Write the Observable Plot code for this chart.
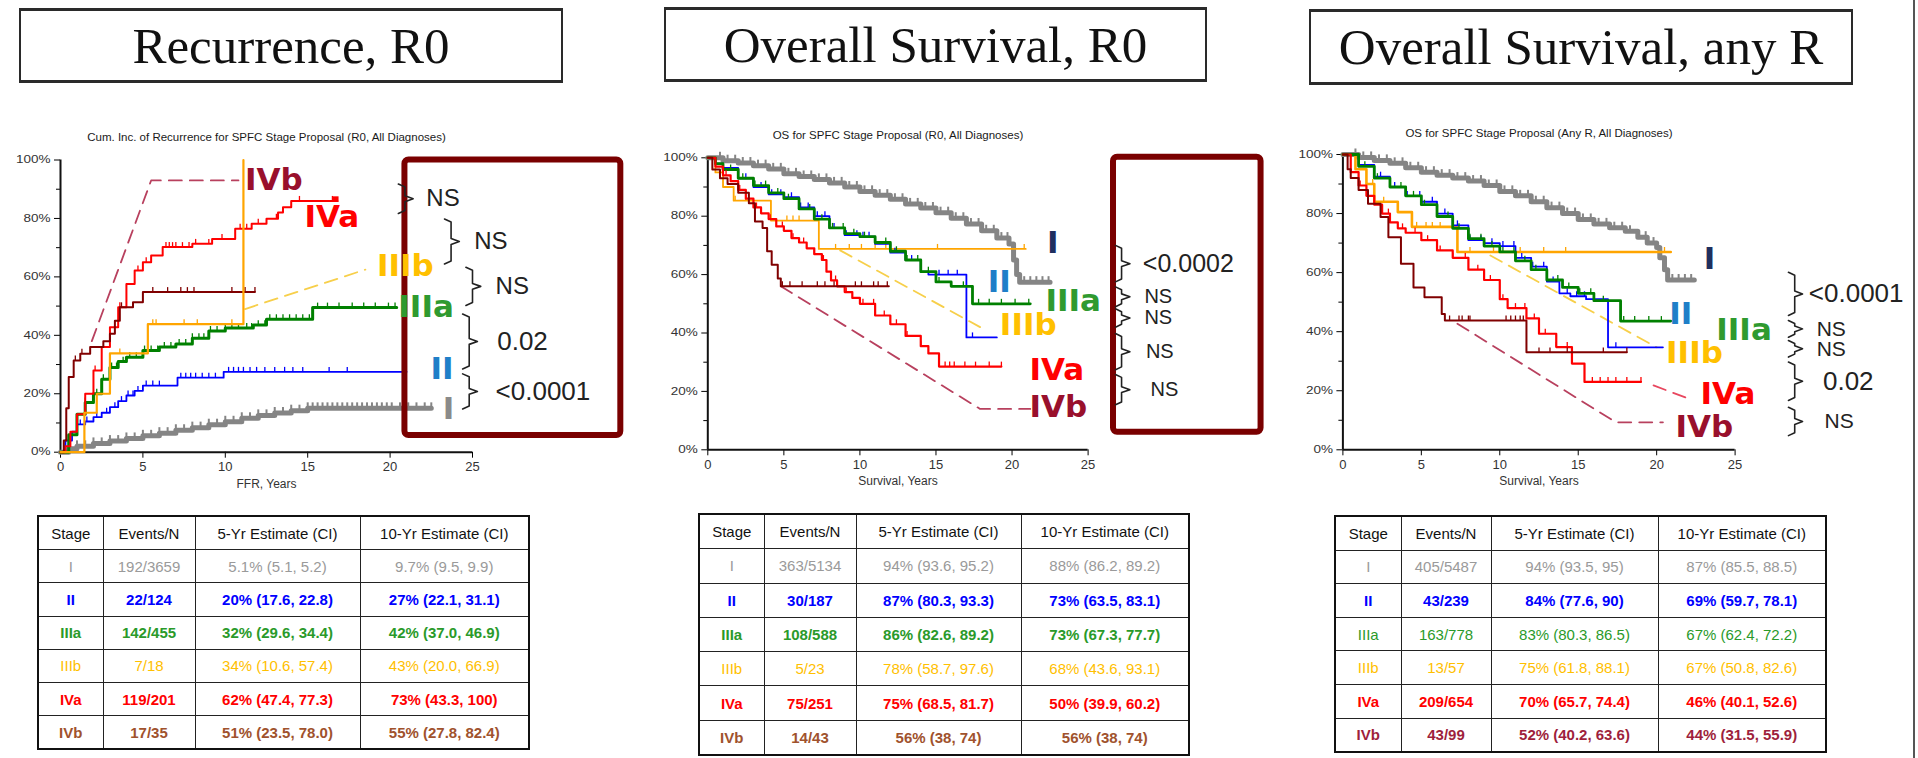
<!DOCTYPE html>
<html><head><meta charset="utf-8">
<script src="https://cdn.jsdelivr.net/npm/d3@7"></script>
<script src="https://cdn.jsdelivr.net/npm/@observablehq/plot@0.6"></script>
<style>
html,body{margin:0;padding:0;background:#fff;}
body{width:1918px;height:758px;overflow:hidden;position:relative;font-family:'Liberation Sans',Arial,sans-serif;}
.tbox{position:absolute;box-sizing:border-box;border:2px solid #2a2a2a;border-top-width:3px;border-bottom-width:3px;display:flex;align-items:center;justify-content:center;font-family:'Liberation Serif','Times New Roman',serif;font-size:51px;color:#111;white-space:nowrap;}
.panel{position:absolute;}
.panel svg{overflow:visible;}
table.est{position:absolute;border-collapse:collapse;table-layout:fixed;font-family:'Liberation Sans',Arial,sans-serif;font-size:15px;border:2px solid #111;}
table.est td{border:1.6px solid #222;text-align:center;padding:0;white-space:nowrap;overflow:hidden;}
#edge{position:absolute;left:1913px;top:0;width:2px;height:758px;background:#555;}
</style></head>
<body>
<div id="edge"></div>
<script>
// ---------------- shared categories / ticks ----------------
const stages = ["I","II","IIIa","IIIb","IVa","IVb"];
const yearTicks = [0,5,10,15,20,25];
const pctTicks = [0,20,40,60,80,100];
const pctMinor = [10,30,50,70,90];
const headers = ["Stage","Events/N","5-Yr Estimate (CI)","10-Yr Estimate (CI)"];

// ---------------- Panel 1: Recurrence, R0 (cumulative incidence, %) ----------------
const rec_I    = [[0,0],[0.5,1.2],[1,2],[2,3],[3,3.8],[4,4.7],[5,5.6],[6,6.5],[7,7.5],[8,8.4],[9,9.4],[10,10.4],[11,11.6],[12,12.6],[13,13.4],[14,14.2],[15,15],[22.5,15]];
const rec_II   = [[0,0],[0.3,4],[0.7,7],[1,9.5],[1.5,10.5],[2,12],[2.5,13.5],[3,15.4],[3.5,17.5],[4,19.4],[4.5,21],[5,22.8],[7.1,25.5],[9.9,27.5],[21,27.5]];
const rec_IIIa = [[0,0],[0.5,6],[1,13],[1.5,17],[2,20],[2.5,25],[3,29],[3.5,31],[4,32.5],[5,34.8],[6,36],[7,37],[8,39],[9,41.5],[10,42.5],[11.7,43.5],[12.5,45.5],[15.3,49.5],[20.4,49.5]];
const rec_IIIb = [[0,0],[1.45,13.5],[2.2,20],[3,33.8],[5.3,43.8],[11.1,100]];
const rec_IVa  = [[0,0],[0.3,2],[0.6,7],[1,13],[1.5,20],[2,28],[2.5,36],[3,42.8],[3.5,49.6],[4,57.6],[4.5,62.2],[5,65],[5.5,67.3],[6.2,70.2],[8,71.3],[9.2,73],[10.6,76.5],[11.6,78.2],[12.5,79.9],[13.2,82],[13.5,83.8],[14,86],[16.8,86]];
const rec_IVb  = [[0,0],[0.2,4],[0.35,15],[0.5,25.7],[0.8,31.4],[1.2,33.7],[1.8,36],[2.6,38],[3,40.5],[3.3,45],[3.6,49.6],[4.4,51.3],[5,54.8],[11.8,54.8]];
const rec_I_c    = [1,1.5,2,2.5,3,3.5,4,4.5,5,5.5,6,6.5,7,7.5,8,8.5,9,9.5,10,10.5,11,11.5,12,12.5,13,13.5,14,14.5,15,15.3,15.6,15.9,16.2,16.5,16.8,17.1,17.4,17.7,18,18.3,18.6,18.9,19.2,19.5,19.8,20.1,20.6,21.1,21.6,22.1,22.5];
const rec_II_c   = [1.2,1.6,2.2,2.8,3.3,3.7,4.1,4.4,4.7,5.2,5.6,6.0,7.3,7.6,7.9,8.2,8.6,9.0,9.4,10.2,10.5,10.8,11.1,11.5,11.9,12.4,13.0,13.6,14.1,14.7,16.3,17.4];
const rec_IIIa_c = [1.5,2.2,2.6,3.1,3.4,3.8,4.2,4.6,5.1,5.5,5.9,6.3,6.7,7.2,7.6,8.0,8.4,8.7,9.1,9.5,10.0,10.4,10.8,11.3,11.6,12.0,12.4,12.7,13.1,13.5,13.9,14.3,14.7,15.1,15.6,16.2,16.9,17.7,18.4,19.1,19.9,20.3];
const rec_IIIb_c = [3.6,5.6,5.8,7.5,8.3,10.4];
const rec_IVa_c  = [2.1,3.6,4.7,5.2,6.4,6.6,6.8,7.0,7.4,7.8,8.2,9.0,9.8,10.9,11.3,12.0,13.1,14.5,16.5];
const rec_IVb_c  = [0.9,1.3,3.7,5.6,6.5,7.3,7.7,8.1,10.4,11.2,11.8];
const rec_endMark = [[16.7,86.6]];
const rec_dashIIIb = [[11.2,49],[18.5,62.5]];
const rec_dashIVb  = [[1.9,38],[5.5,93],[10.8,93]];
const rec_labelX = [23.2,22.45,20.5,19.2,14.8,11.2];
const rec_labelY = [14.6,28.3,49.6,63.6,80.4,93.0];
const rec_brX  = [20.9,23.7,25.0,24.8,24.8];
const rec_brY1 = [91.8,79.8,63.3,47.3,26.8];
const rec_brY2 = [81.7,64.4,50.2,28.5,14.8];
const rec_brText  = ["NS","NS","NS","0.02","<0.0001"];
const rec_brTextX = [22.2,25.1,26.4,26.5,26.4];
const rec_box = [20.9,34.0,5.7,100];
const rec_events = ["192/3659","22/124","142/455","7/18","119/201","17/35"];
const rec_5yr  = ["5.1% (5.1, 5.2)","20% (17.6, 22.8)","32% (29.6, 34.4)","34% (10.6, 57.4)","62% (47.4, 77.3)","51% (23.5, 78.0)"];
const rec_10yr = ["9.7% (9.5, 9.9)","27% (22.1, 31.1)","42% (37.0, 46.9)","43% (20.0, 66.9)","73% (43.3, 100)","55% (27.8, 82.4)"];

// ---------------- Panel 2: Overall Survival, R0 (%) ----------------
const os0_I    = [[0,100],[1,99],[2,98.2],[3,97.3],[4,96.2],[5,94.5],[6,93.6],[7,92.6],[8,91.4],[9,90],[10,88.5],[11,87.2],[12,85.8],[13,84.2],[14,82.8],[15,81.2],[16,79.3],[17,77.3],[18,75],[19,72.5],[19.8,70.5],[20.1,65],[20.3,60],[20.5,57.4],[22.5,57.4]];
const os0_II   = [[0,100],[0.5,98],[1,96.5],[2,93],[3,90],[4,87.5],[5,86.5],[6,83],[7,80],[8,76],[9,73.5],[10,73],[11,70.5],[12,67.5],[13,65],[14,61],[14.5,60],[17,38.5],[19,38.5]];
const os0_IIIa = [[0,100],[0.5,98],[1,96],[2,93],[3,90.5],[4,88],[5,86],[6,82.5],[7,79],[8,76],[9,74],[10,73],[11,71],[12,68],[13,65],[14,61],[15,57.5],[16,56],[17.4,50],[21.2,50]];
const os0_IIIb = [[0,100],[0.5,95],[1,90],[1.7,85.3],[4.15,78.5],[7.3,68.8],[20.9,68.8]];
const os0_IVa  = [[0,100],[0.5,97],[1,94],[1.5,92],[2,89],[2.5,86],[3,83],[3.5,81],[4,79],[4.5,76.5],[5,75],[5.5,72.5],[6,71],[6.5,69],[7,67],[7.5,65],[7.8,61],[8.1,58],[8.5,56],[9,54],[9.5,52],[10,50],[11,46],[12,43],[13,39],[14,35.5],[14.5,33],[15.2,28.5],[19.3,28.5]];
const os0_IVb  = [[0,100],[0.3,96],[0.8,93],[1.3,91],[2,88],[2.7,84.4],[3.1,78.2],[3.6,76],[3.9,68],[4.2,63.4],[4.6,58.7],[4.8,56],[11.9,56]];
const os0_I_c    = [0.8,1.3,1.8,2.3,2.8,3.3,3.8,4.3,4.8,5.3,5.8,6.3,6.8,7.3,7.8,8.3,8.8,9.3,9.8,10.3,10.8,11.3,11.8,12.3,12.8,13.3,13.8,14.3,14.8,15.3,15.8,16.3,16.8,17.3,17.8,18.3,18.8,19.3,19.7,20.8,21.2,21.6,22.0,22.4];
const os0_II_c   = [2.5,3.5,4.2,4.8,5.5,6.1,6.6,7.2,7.7,8.3,9.1,9.8,10.2,10.6,11.0,12.3,13.4,15.2,15.8,16.4,17.4];
const os0_IIIa_c = [1.5,2.3,3.1,3.8,4.6,5.3,6.0,6.7,7.5,8.2,8.9,9.6,10.3,11,11.7,12.4,13.1,13.8,14.5,15.2,16.0,16.8,17.8,18.5,19.3,20.2,21.1];
const os0_IIIb_c = [1.8,2.5,5.2,5.6,6.0,8.4,9.3,10.1,11.0,11.7,15.1,20.8];
const os0_IVa_c  = [1.2,2.1,3.2,4.1,4.9,5.6,6.3,7.0,7.6,8.4,9.1,10.2,10.9,11.6,12.4,13.1,14.0,15.6,15.9,16.2,16.9,17.6,18.5,19.3];
const os0_IVb_c  = [4.9,5.4,6.2,7.2,7.7,8.3,9.7,10.1,10.9,11.2,11.8];
const os0_dashIIIb = [[8.7,68.3],[17.9,42]];
const os0_dashIVb  = [[4.8,56],[17.9,14],[21.2,14]];
const os0_labelX = [22.3,18.4,22.2,19.2,21.15,21.15];
const os0_labelY = [70.9,57.6,50.9,42.6,27.2,14.6];
const os0_brX  = [27.2,27.2,27.2,27.2,27.2];
const os0_brY1 = [70,55.8,48.3,39.8,25.8];
const os0_brY2 = [57.5,49,42,27.4,15.4];
const os0_brText  = ["<0.0002","NS","NS","NS","NS"];
const os0_brTextX = [28.6,28.7,28.7,28.8,29.1];
const os0_box = [26.67,36.37,6.0,100.2];
const os0_events = ["363/5134","30/187","108/588","5/23","75/251","14/43"];
const os0_5yr  = ["94% (93.6, 95.2)","87% (80.3, 93.3)","86% (82.6, 89.2)","78% (58.7, 97.6)","75% (68.5, 81.7)","56% (38, 74)"];
const os0_10yr = ["88% (86.2, 89.2)","73% (63.5, 83.1)","73% (67.3, 77.7)","68% (43.6, 93.1)","50% (39.9, 60.2)","56% (38, 74)"];

// ---------------- Panel 3: Overall Survival, any R (%) ----------------
const osA_I    = [[0,100],[1,99],[2,98],[3,97],[4,95.5],[5,94],[6,93],[7,92],[8,91],[9,89.5],[10,87.5],[11,86],[12,84],[13,82],[14,80],[15,78],[16,76.5],[17,75.2],[18,74],[18.8,72],[19.4,70],[20,68.5],[20.2,65],[20.5,61],[20.7,57.5],[22.4,57.5]];
const osA_II   = [[0,100],[1,96.5],[2,92.5],[3,89],[4,86],[5,84],[6,80],[7,76],[8,71],[9,70],[10,69],[11,65],[12,62],[13,57],[13.8,53],[14.5,52],[15.5,51],[16.9,34.7],[20.4,34.7]];
const osA_IIIa = [[0,100],[1,96],[2,92],[3,89],[4,86],[5,83],[6,79],[7,75],[8,71.5],[9,69],[10,67],[11,64],[12,61],[13,57.5],[14,55],[15,53],[16,50.5],[17.7,43.6],[20.9,43.6]];
const osA_IIIb = [[0,100],[0.8,95],[1.5,90],[2,84],[3.5,80.5],[4.4,75.5],[7.3,67],[20.9,67]];
const osA_IVa  = [[0,100],[0.5,94],[1,89.5],[1.5,86],[2,83],[2.5,80],[3,77],[3.5,75],[4,73.5],[5,71],[6,67.5],[7,65],[8,61],[9,57.5],[10,51],[10.5,48],[11.7,44.5],[12.5,39.3],[13.6,34.8],[14.6,29.2],[15.4,23],[19,23]];
const osA_IVb  = [[0,100],[0.3,95],[0.5,92],[1,88],[1.6,83.3],[2.4,78.8],[2.9,72],[3.7,63],[4.5,55],[5.2,51.7],[6.3,46],[6.5,43.8],[11.7,33],[18.1,33]];
const osA_I_c    = [0.8,1.3,1.8,2.3,2.8,3.3,3.8,4.3,4.8,5.3,5.8,6.3,6.8,7.3,7.8,8.3,8.8,9.3,9.8,10.3,10.8,11.3,11.8,12.3,12.8,13.3,13.8,14.3,14.8,15.3,15.8,16.3,16.8,17.3,17.8,18.3,18.8,19.3,19.8,21.0,21.4,21.8,22.2];
const osA_II_c   = [2.4,3.3,4.1,4.9,5.7,6.5,7.3,8.1,8.8,9.5,10.2,10.9,11.4,12.1,12.8,13.4,14.3,14.9,15.4,16.0,17.4];
const osA_IIIa_c = [1.4,2.2,3.0,3.7,4.5,5.2,6.0,6.7,7.4,8.1,8.8,9.5,10.2,10.9,11.6,12.3,13.0,13.7,14.4,15.1,15.8,16.6,17.9,18.6,19.5,20.3];
const osA_IIIb_c = [1.9,2.6,4.7,5.3,5.7,6.2,8.1,9.6,11.3,12.8,14.2,20.5];
const osA_IVa_c  = [1.1,2.0,2.9,3.8,4.6,5.4,6.2,7.0,7.8,8.6,9.4,10.2,11.0,11.6,12.2,12.9,13.6,14.3,15.9,16.4,16.9,17.4,18.1,19.0];
const osA_IVb_c  = [6.8,7.4,7.6,8.0,8.1,10.4,10.7,11.0,11.3,11.5,12.5,13.2,14.3,16.6,18.1];
const osA_dashIIIb = [[9.4,65.8],[20,34.7]];
const osA_dashIVa  = [[19.8,21.8],[22.0,17.4]];
const osA_dashIVb  = [[7.3,42.7],[17.4,9.3],[20.4,9.3]];
const osA_labelX = [23.0,20.8,23.8,20.6,22.8,21.2];
const osA_labelY = [64.7,45.8,40.4,32.8,18.9,7.7];
const osA_brX  = [28.8,28.8,28.8,28.8,28.8];
const osA_brY1 = [60.1,43.8,37,29.7,14.4];
const osA_brY2 = [45.5,38.1,31.4,16.7,4.8];
const osA_brText  = ["<0.0001","NS","NS","0.02","NS"];
const osA_brTextX = [29.7,30.2,30.2,30.6,30.7];
const osA_events = ["405/5487","43/239","163/778","13/57","209/654","43/99"];
const osA_5yr  = ["94% (93.5, 95)","84% (77.6, 90)","83% (80.3, 86.5)","75% (61.8, 88.1)","70% (65.7, 74.4)","52% (40.2, 63.6)"];
const osA_10yr = ["87% (85.5, 88.5)","69% (59.7, 78.1)","67% (62.4, 72.2)","67% (50.8, 82.6)","46% (40.1, 52.6)","44% (31.5, 55.9)"];

// ---------------- colours ----------------
const lineColors  = ["#858585","#0000ff","#008000","#ffa500","#ff0000","#800000"];
const labelColors1 = ["#8a8a8a","#1f7fc8","#2f9a2f","#ffc000","#ff0000","#99102c"];
const labelColors23 = ["#1f2f5f","#1f7fc8","#2f9a2f","#ffc000","#ff0000","#99102c"];
const tableColors = ["#9a9a9a","#0000ff","#2a9a2a","#ffc000","#ff0000","#a0522d"];
const tableColors3 = ["#9a9a9a","#0000ff","#2a9a2a","#ffc000","#ff0000","#9e1f3c"];

// ---------------- helpers ----------------
function stepAt(series, t) { let v = series[0][1]; for (const [x, y] of series) if (x <= t) v = y; return v; }
const censorTick = { draw(ctx, size) { const h = Math.sqrt(size); ctx.moveTo(0, 0); ctx.lineTo(0, -h); } };

function bracketLines(xs, y1s, y2s, wl, wr, d) {
  const pts = [];
  xs.forEach((x, i) => {
    const a = y1s[i], b = y2s[i], m = (a + b) / 2;
    [[x - wl, a], [x, a - d], [x, m + d], [x + wr, m], [x, m - d], [x, b + d], [x - wl, b]]
      .forEach(([px, py]) => pts.push({ k: i, x: px, y: py }));
  });
  return pts;
}

function panel(cfg) {
  const marks = [];
  marks.push(Plot.axisY({ ticks: pctTicks, tickSize: 6, tickPadding: 4, tickFormat: d => d + "%", fontSize: 10, fill: "#333", label: null }));
  marks.push(Plot.axisY({ ticks: pctMinor, tickSize: 4, tickFormat: () => "", label: null }));
  marks.push(Plot.axisX({ ticks: yearTicks, tickSize: 6, tickPadding: 4, fontSize: 13, fill: "#333", label: null }));
  marks.push(Plot.ruleX([0], { stroke: "#111", strokeWidth: 2 }));
  marks.push(Plot.ruleY([0], { stroke: "#111", strokeWidth: 2 }));
  cfg.dashes.forEach(([pts, col]) => marks.push(Plot.line(pts, { x: d => d[0], y: d => d[1], stroke: col, strokeWidth: 1.8, strokeDasharray: "13,8" })));
  cfg.order.forEach(i => {
    const s = cfg.series[i];
    marks.push(Plot.line(s, { x: d => d[0], y: d => d[1], curve: "step-after", stroke: lineColors[i], strokeWidth: cfg.widths[i] }));
    const c = cfg.cens[i].map(t => ({ t, v: stepAt(s, t) }));
    marks.push(Plot.dot(c, { x: "t", y: "v", symbol: censorTick, r: i === 0 ? 3.4 : 2.8, stroke: lineColors[i], fill: "none", strokeWidth: i === 0 ? 2 : 1.3 }));
  });
  if (cfg.endMark) marks.push(Plot.dot(cfg.endMark, { x: d => d[0], y: d => d[1], symbol: "square", r: 3.2, fill: lineColors[4] }));
  if (cfg.box) marks.push(Plot.rect([cfg.box], { x1: d => d[0], x2: d => d[1], y1: d => d[2], y2: d => d[3], fill: "none", stroke: "#7a0000", strokeWidth: 6, rx: 4 }));
  const labs = stages.map((s, i) => ({ s, x: cfg.labelX[i], y: cfg.labelY[i], c: cfg.labelColors[i] }));
  marks.push(Plot.text(labs, { x: "x", y: "y", text: "s", fill: "c", textAnchor: "start", fontSize: 31, fontWeight: "bold", fontFamily: "DejaVu Sans, sans-serif" }));
  marks.push(Plot.line(bracketLines(cfg.brX, cfg.brY1, cfg.brY2, cfg.wl, cfg.wr, 1.0), { x: "x", y: "y", z: "k", stroke: "#222", strokeWidth: 1.6 }));
  const ps = cfg.brText.map((t, i) => ({ t, x: cfg.brTextX[i], y: (cfg.brY1[i] + cfg.brY2[i]) / 2, f: t.length > 3 ? cfg.pSize : cfg.nsSize }));
  marks.push(Plot.text(ps, { x: "x", y: "y", text: "t", fontSize: "f", textAnchor: "start", fill: "#222", fontFamily: "Liberation Sans, Arial, sans-serif" }));
  marks.push(Plot.text([cfg.title], { frameAnchor: "top", dy: cfg.titleDy, lineAnchor: "middle", fontSize: 11.5, fill: "#1a1a1a", ariaLabel: "chart-title" }));
  marks.push(Plot.text([cfg.xlabel], { frameAnchor: "bottom", dy: 31.5, lineAnchor: "middle", fontSize: 12, fill: "#333", ariaLabel: "x-title" }));

  const svg = Plot.plot({
    width: cfg.width, height: 400,
    marginLeft: cfg.ml, marginRight: cfg.mr, marginTop: cfg.mt, marginBottom: cfg.mb,
    x: { domain: [0, 25] }, y: { domain: [0, 100] },
    style: { fontFamily: "Liberation Sans, Arial, sans-serif", fontSize: "11px", background: "transparent", overflow: "visible" },
    marks
  });
  d3.select(svg).select('g[aria-label="chart-title"] text').attr("textLength", cfg.titleLen).attr("lengthAdjust", "spacingAndGlyphs");
  const div = document.createElement("div");
  div.className = "panel";
  div.style.left = cfg.left + "px"; div.style.top = "100px";
  div.appendChild(svg);
  document.body.appendChild(div);
  d3.select(svg).selectAll('g[aria-label="y-axis tick label"] text').each(function () {
    const w = this.getComputedTextLength();
    if (w > 0) { this.setAttribute("textLength", (w * 1.35).toFixed(1)); this.setAttribute("lengthAdjust", "spacingAndGlyphs"); }
  });
  d3.select(svg).selectAll('g[aria-label="x-title"] text').each(function () {
    const w = this.getComputedTextLength();
    if (w > 0) { this.setAttribute("textLength", (w * 1.15).toFixed(1)); this.setAttribute("lengthAdjust", "spacingAndGlyphs"); }
  });
}

function titleBox(text, l, t, w, h) {
  const d = document.createElement("div");
  d.className = "tbox";
  Object.assign(d.style, { left: l + "px", top: t + "px", width: w + "px", height: h + "px" });
  d.textContent = text;
  document.body.appendChild(d);
}

function table(l, t, widths, rowH, events, e5, e10, colors, boldRows) {
  const tb = document.createElement("table");
  tb.className = "est";
  Object.assign(tb.style, { left: l + "px", top: t + "px", width: d3.sum(widths) + "px" });
  const cg = document.createElement("colgroup");
  widths.forEach(w => { const c = document.createElement("col"); c.style.width = w + "px"; cg.appendChild(c); });
  tb.appendChild(cg);
  const hr = tb.insertRow();
  headers.forEach(h => { const c = hr.insertCell(); c.textContent = h; c.style.height = rowH + "px"; c.style.color = "#111"; });
  stages.forEach((s, i) => {
    const r = tb.insertRow();
    [s, events[i], e5[i], e10[i]].forEach(v => {
      const c = r.insertCell(); c.textContent = v; c.style.height = rowH + "px"; c.style.color = colors[i];
      if (boldRows.includes(i)) c.style.fontWeight = "bold";
    });
  });
  document.body.appendChild(tb);
}

// ---------------- build ----------------
titleBox("Recurrence, R0", 19, 8, 544, 75);
titleBox("Overall Survival, R0", 664, 7, 543, 75);
titleBox("Overall Survival, any R", 1309, 9, 544, 76);

panel({
  left: 0, width: 650, ml: 60, mr: 178, mt: 59.5, mb: 48.3,
  series: [rec_I, rec_II, rec_IIIa, rec_IIIb, rec_IVa, rec_IVb],
  cens: [rec_I_c, rec_II_c, rec_IIIa_c, rec_IIIb_c, rec_IVa_c, rec_IVb_c],
  order: [0, 1, 2, 4, 5, 3], widths: [5, 1.8, 3, 2.2, 2, 2],
  dashes: [[rec_dashIIIb, "#f7cf4a"], [rec_dashIVb, "#b8405e"]],
  endMark: rec_endMark, box: rec_box,
  labelX: rec_labelX, labelY: rec_labelY, labelColors: labelColors1,
  brX: rec_brX, brY1: rec_brY1, brY2: rec_brY2, brText: rec_brText, brTextX: rec_brTextX,
  wl: 0.4, wr: 0.5, pSize: 26, nsSize: 24,
  title: "Cum. Inc. of Recurrence for SPFC Stage Proposal (R0, All Diagnoses)", titleDy: -22.8, titleLen: 470,
  xlabel: "FFR, Years"
});

panel({
  left: 650, width: 625, ml: 57.3, mr: 187.4, mt: 57.3, mb: 50.7,
  series: [os0_I, os0_II, os0_IIIa, os0_IIIb, os0_IVa, os0_IVb],
  cens: [os0_I_c, os0_II_c, os0_IIIa_c, os0_IIIb_c, os0_IVa_c, os0_IVb_c],
  order: [0, 3, 1, 2, 4, 5], widths: [5, 1.8, 2.8, 1.8, 2.2, 2],
  dashes: [[os0_dashIIIb, "#f7cf4a"], [os0_dashIVb, "#b8405e"]],
  box: os0_box,
  labelX: os0_labelX, labelY: os0_labelY, labelColors: labelColors23,
  brX: os0_brX, brY1: os0_brY1, brY2: os0_brY2, brText: os0_brText, brTextX: os0_brTextX,
  wl: 0.4, wr: 0.55, pSize: 25, nsSize: 20,
  title: "OS for SPFC Stage Proposal (R0, All Diagnoses)", titleDy: -22.3, titleLen: 328,
  xlabel: "Survival, Years"
});

panel({
  left: 1275, width: 640, ml: 67.4, mr: 180.4, mt: 54, mb: 50.7,
  series: [osA_I, osA_II, osA_IIIa, osA_IIIb, osA_IVa, osA_IVb],
  cens: [osA_I_c, osA_II_c, osA_IIIa_c, osA_IIIb_c, osA_IVa_c, osA_IVb_c],
  order: [0, 3, 1, 2, 4, 5], widths: [5, 1.8, 2.8, 2.6, 2.2, 2],
  dashes: [[osA_dashIIIb, "#f7cf4a"], [osA_dashIVa, "#e8475f"], [osA_dashIVb, "#b8405e"]],
  labelX: osA_labelX, labelY: osA_labelY, labelColors: labelColors23,
  brX: osA_brX, brY1: osA_brY1, brY2: osA_brY2, brText: osA_brText, brTextX: osA_brTextX,
  wl: 0.4, wr: 0.5, pSize: 26, nsSize: 21,
  title: "OS for SPFC Stage Proposal (Any R, All Diagnoses)", titleDy: -21.3, titleLen: 350,
  xlabel: "Survival, Years"
});

table(37, 515, [65, 92, 165, 169], 32.2, rec_events, rec_5yr, rec_10yr, tableColors, [1, 2, 4, 5]);
table(698, 513, [65, 92, 165, 168], 33.3, os0_events, os0_5yr, os0_10yr, tableColors, [1, 2, 4, 5]);
table(1334, 515, [66, 90, 167, 168], 32.6, osA_events, osA_5yr, osA_10yr, tableColors3, [1, 4, 5]);
</script>
</body></html>
